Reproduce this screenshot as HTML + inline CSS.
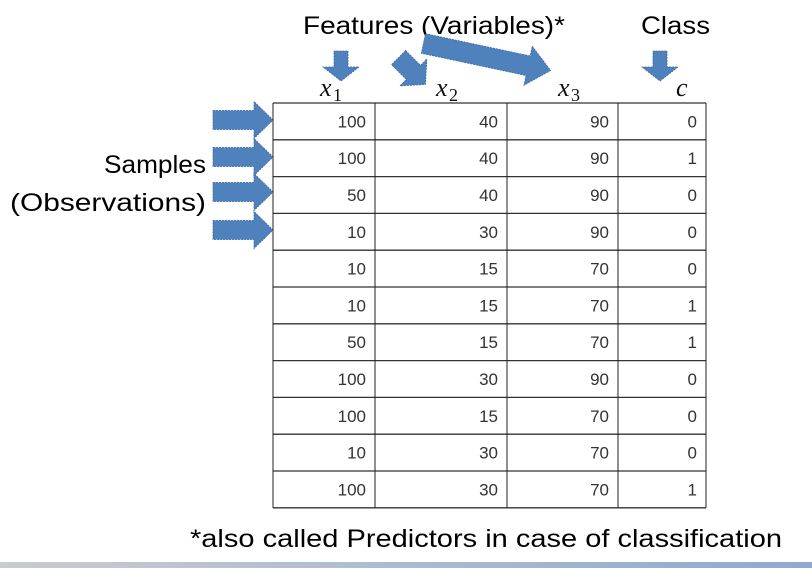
<!DOCTYPE html>
<html><head><meta charset="utf-8"><style>
body{margin:0;background:#fff;width:812px;height:568px;overflow:hidden}
svg{display:block}
.lbl{font-family:"Liberation Sans",sans-serif;font-size:25px;fill:#000}
.num{font-family:"Liberation Sans",sans-serif;font-size:17px;fill:#333}
.var{font-family:"Liberation Serif",serif;font-style:italic;font-size:26px;fill:#111}
.sub{font-family:"Liberation Serif",serif;font-size:18px;fill:#111}
</style></head><body>
<svg id="s" width="812" height="568">
<defs><linearGradient id="g" x1="0" x2="1"><stop offset="0" stop-color="#c8ccd0"/><stop offset="1" stop-color="#8eaad0"/></linearGradient></defs>
<rect x="0" y="562" width="812" height="6" fill="url(#g)"/>
<text class="lbl" x="303" y="34" textLength="262" lengthAdjust="spacingAndGlyphs">Features (Variables)*</text>
<text class="lbl" x="641" y="34" textLength="69" lengthAdjust="spacingAndGlyphs">Class</text>
<text class="lbl" x="104" y="173" textLength="102" lengthAdjust="spacingAndGlyphs">Samples</text>
<text class="lbl" x="10" y="211" textLength="196" lengthAdjust="spacingAndGlyphs">(Observations)</text>
<text class="lbl" x="190" y="547" textLength="592" lengthAdjust="spacingAndGlyphs">*also called Predictors in case of classification</text>
<g><text class="var" x="320" y="96">x</text><text class="sub" x="333" y="101">1</text></g>
<g><text class="var" x="436" y="96">x</text><text class="sub" x="449" y="101">2</text></g>
<g><text class="var" x="558" y="96">x</text><text class="sub" x="571" y="101">3</text></g>
<text class="var" x="676" y="96">c</text>
<g id="arrows" fill="#4f81bd" stroke="#3a6aa5" stroke-width="0.8" stroke-dasharray="2,1"></g>
<g id="tbl"></g>
</svg>
<script>
const x1=[100,100,50,10,10,10,50,100,100,10,100];
const x2=[40,40,40,30,15,15,15,30,15,30,30];
const x3=[90,90,90,90,70,70,70,90,70,70,70];
const cls=[0,1,0,0,0,1,1,0,0,0,1];
const NS="http://www.w3.org/2000/svg";
const colX=[273,375,507,618,706], tblTop=103, rh=36.8;
const tbl=document.getElementById('tbl');
function mk(t,a,p){const e=document.createElementNS(NS,t);for(const k in a)e.setAttribute(k,a[k]);p.appendChild(e);return e;}
const cols=[x1,x2,x3,cls];
const n=x1.length;
for(let i=0;i<=n;i++){const l=mk('line',{x1:273,x2:706,y1:tblTop+i*rh,y2:tblTop+i*rh,stroke:'#333','stroke-width':1.3},tbl);

}
colX.forEach(x=>{const l=mk('line',{x1:x,x2:x,y1:tblTop,y2:tblTop+n*rh,stroke:'#222','stroke-width':1},tbl);

});
for(let i=0;i<n;i++)for(let c=0;c<4;c++){const t=mk('text',{class:'num',x:colX[c+1]-9,y:tblTop+i*rh+rh/2+6,'text-anchor':'end'},tbl);t.textContent=cols[c][i];

}
const ar=document.getElementById('arrows');
function arrow(cx,cy,ang,len,sw,hw,hl){const h=len/2,s=sw/2,w=hw/2;
const p=mk('polygon',{points:`${-h},${-s} ${h-hl},${-s} ${h-hl},${-w} ${h},0 ${h-hl},${w} ${h-hl},${s} ${-h},${s}`,transform:`translate(${cx},${cy}) rotate(${ang})`},ar);

}
[120,157,192,230].forEach(cy=>arrow(243,cy,0,60,19,37,19));
arrow(341,66,90,30,14,36,14);
arrow(412,71,45,38,20,38,17);
arrow(487,57,12,130,20,40,23);
arrow(660,66,90,30,14,36,14);
</script>
</body></html>
